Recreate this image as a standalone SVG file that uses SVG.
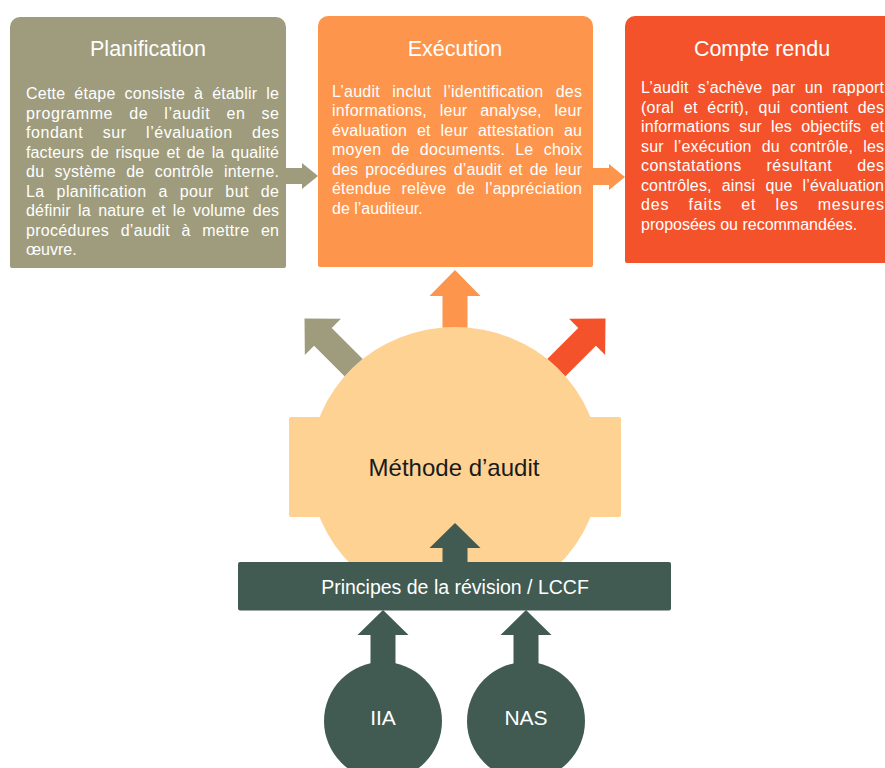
<svg xmlns="http://www.w3.org/2000/svg" width="885" height="768" viewBox="0 0 885 768">
  <style>
    .title { font-family: "Liberation Sans", Arial, sans-serif; font-size: 21.5px; fill: #ffffff; text-anchor: middle; }
    .body { font-family: "Liberation Sans", Arial, sans-serif; font-size: 16px; fill: #ffffff; }
    .label { font-family: "Liberation Sans", Arial, sans-serif; fill: #ffffff; text-anchor: middle; }
    .olive { fill: #9e9c7c; }
    .orange { fill: #fd954d; }
    .red { fill: #f4522b; }
    .sand { fill: #fed293; }
    .slate { fill: #415b53; }
  </style>
  <defs>
    <!-- everything outside the central badge, so the diagonal arrows tuck under it -->
    <clipPath id="outsideBadge">
      <path clip-rule="evenodd" d="M0 0H885V768H0Z M310 467a145 140 0 1 0 290 0a145 140 0 1 0 -290 0Z"/>
    </clipPath>
  </defs>

  <rect width="885" height="768" fill="#ffffff"/>

  <!-- Step boxes -->
  <g id="node-planification">
    <path class="olive" d="M10 27a10 10 0 0 1 10 -10H276a10 10 0 0 1 10 10V266a2 2 0 0 1 -2 2H12a2 2 0 0 1 -2 -2Z"/>
    <text class="title" x="148" y="55.5">Planification</text>
    <text class="body" x="26" y="99" textLength="253" lengthAdjust="spacing" word-spacing="4.3">Cette étape consiste à établir le</text>
    <text class="body" x="26" y="118.5" textLength="253" lengthAdjust="spacing" word-spacing="11.1">programme de l’audit en se</text>
    <text class="body" x="26" y="138" textLength="253" lengthAdjust="spacing" word-spacing="14.5">fondant sur l’évaluation des</text>
    <text class="body" x="26" y="157.5" textLength="253" lengthAdjust="spacing" word-spacing="2.2">facteurs de risque et de la qualité</text>
    <text class="body" x="26" y="177" textLength="253" lengthAdjust="spacing" word-spacing="5.6">du système de contrôle interne.</text>
    <text class="body" x="26" y="196.5" textLength="253" lengthAdjust="spacing" word-spacing="7.1">La planification a pour but de</text>
    <text class="body" x="26" y="216" textLength="253" lengthAdjust="spacing" word-spacing="2.7">définir la nature et le volume des</text>
    <text class="body" x="26" y="235.5" textLength="253" lengthAdjust="spacing" word-spacing="6.75">procédures d’audit à mettre en</text>
    <text class="body" x="26" y="255">œuvre.</text>
  </g>

  <g id="node-execution">
    <path class="orange" d="M318 26a10 10 0 0 1 10 -10H583a10 10 0 0 1 10 10V265a2 2 0 0 1 -2 2H320a2 2 0 0 1 -2 -2Z"/>
    <text class="title" x="455" y="55.5">Exécution</text>
    <text class="body" x="332" y="96.5" textLength="250" lengthAdjust="spacing" word-spacing="7.6">L’audit inclut l’identification des</text>
    <text class="body" x="332" y="116" textLength="250" lengthAdjust="spacing" word-spacing="8">informations, leur analyse, leur</text>
    <text class="body" x="332" y="135.5" textLength="250" lengthAdjust="spacing" word-spacing="5.2">évaluation et leur attestation au</text>
    <text class="body" x="332" y="155" textLength="250" lengthAdjust="spacing" word-spacing="5.4">moyen de documents. Le choix</text>
    <text class="body" x="332" y="174.5" textLength="250" lengthAdjust="spacing" word-spacing="2.55">des procédures d’audit et de leur</text>
    <text class="body" x="332" y="194" textLength="250" lengthAdjust="spacing" word-spacing="5.8">étendue relève de l’appréciation</text>
    <text class="body" x="332" y="213.5">de l’auditeur.</text>
  </g>

  <g id="node-compte-rendu">
    <path class="red" d="M625 26a10 10 0 0 1 10 -10H900V263H627a2 2 0 0 1 -2 -2Z"/>
    <text class="title" x="762" y="55.5">Compte rendu</text>
    <text class="body" x="641" y="93" textLength="243" lengthAdjust="spacing" word-spacing="4.7">L’audit s’achève par un rapport</text>
    <text class="body" x="641" y="112.5" textLength="243" lengthAdjust="spacing" word-spacing="5">(oral et écrit), qui contient des</text>
    <text class="body" x="641" y="132" textLength="243" lengthAdjust="spacing" word-spacing="4.7">informations sur les objectifs et</text>
    <text class="body" x="641" y="151.5" textLength="243" lengthAdjust="spacing" word-spacing="5.5">sur l’exécution du contrôle, les</text>
    <text class="body" x="641" y="171" textLength="243" lengthAdjust="spacing" word-spacing="20">constatations résultant des</text>
    <text class="body" x="641" y="190.5" textLength="243" lengthAdjust="spacing" word-spacing="5.6">contrôles, ainsi que l’évaluation</text>
    <text class="body" x="641" y="210" textLength="243" lengthAdjust="spacing" word-spacing="14">des faits et les mesures</text>
    <text class="body" x="641" y="229.5">proposées ou recommandées.</text>
  </g>

  <!-- Central badge: round body with a horizontal band -->
  <g id="node-methode">
    <ellipse class="sand" cx="455" cy="467" rx="145" ry="140"/>
    <rect class="sand" x="289" y="417" width="332" height="100" rx="2"/>
    <text x="454" y="476" font-family="'Liberation Sans', Arial, sans-serif" font-size="24" fill="#1a1a1a" text-anchor="middle">Méthode d’audit</text>
  </g>

  <g id="node-principes">
    <rect class="slate" x="238" y="562" width="433" height="48.5" rx="2"/>
    <text class="label" x="455" y="593.5" font-size="19.5">Principes de la révision / LCCF</text>
  </g>

  <g id="node-iia">
    <circle class="slate" cx="383" cy="721" r="59"/>
    <text class="label" x="383" y="725" font-size="21">IIA</text>
  </g>

  <g id="node-nas">
    <circle class="slate" cx="526" cy="721" r="59"/>
    <text class="label" x="526" y="725" font-size="21">NAS</text>
  </g>

  <!-- Connectors -->
  <g id="connectors">
    <!-- box to box -->
    <path class="olive" d="M286 168H302V163L318 176L302 189V184H286Z"/>
    <path class="orange" d="M593 168H609V164L625 177L609 190V185H593Z"/>

    <!-- badge to the three steps -->
    <g clip-path="url(#outsideBadge)">
      <path class="orange" transform="translate(455 270)" d="M0 0L25.5 26H12.5V90H-12.5V26H-25.5Z"/>
      <path class="olive" transform="translate(304.5 318.5) rotate(-45)" d="M0 0L25.5 26H12.5V90H-12.5V26H-25.5Z"/>
      <path class="red" transform="translate(605.5 318.5) rotate(45)" d="M0 0L25.5 26H12.5V90H-12.5V26H-25.5Z"/>
    </g>

    <!-- principles feed the method -->
    <path class="slate" transform="translate(455 523)" d="M0 0L25.5 25H12.5V40H-12.5V25H-25.5Z"/>

    <!-- standards feed the principles -->
    <path class="slate" transform="translate(383 610)" d="M0 0L25.5 25H12.5V70H-12.5V25H-25.5Z"/>
    <path class="slate" transform="translate(526 610)" d="M0 0L25.5 25H12.5V70H-12.5V25H-25.5Z"/>
  </g>
</svg>
